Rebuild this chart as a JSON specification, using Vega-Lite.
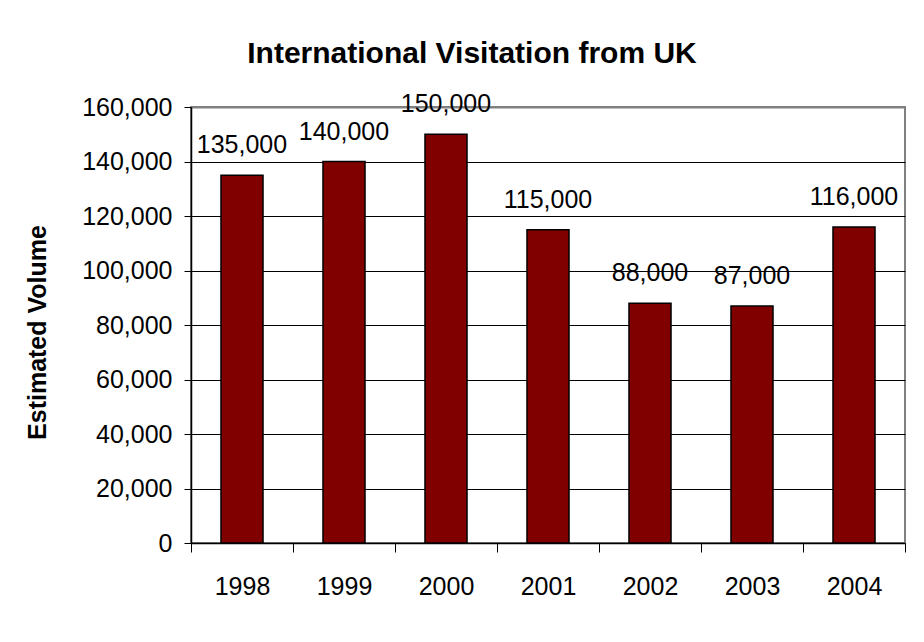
{
  "$schema": "https://vega.github.io/schema/vega-lite/v6.json",
  "autosize": {"type": "none"},
  "width": 714,
  "height": 436,
  "padding": {"left": 191, "top": 107, "right": 19, "bottom": 99},
  "background": "white",
  "title": {
    "text": "International Visitation from UK",
    "font": "Liberation Sans",
    "fontSize": 30,
    "fontWeight": "bold",
    "color": "black",
    "anchor": "middle",
    "frame": "group",
    "baseline": "alphabetic",
    "offset": -1,
    "dx": -76
  },
  "data": {
    "values": [
      {"year": "1998", "volume": 135000},
      {"year": "1999", "volume": 140000},
      {"year": "2000", "volume": 150000},
      {"year": "2001", "volume": 115000},
      {"year": "2002", "volume": 88000},
      {"year": "2003", "volume": 87000},
      {"year": "2004", "volume": 116000}
    ]
  },
  "encoding": {
    "x": {
      "field": "year",
      "type": "ordinal",
      "scale": {"paddingInner": 0, "paddingOuter": 0},
      "axis": {
        "title": null,
        "labelAngle": 0,
        "labelFont": "Liberation Sans",
        "labelFontSize": 25,
        "labelColor": "black",
        "labelPadding": 22,
        "tickBand": "extent",
        "tickSize": 9,
        "tickColor": "black",
        "tickWidth": 1,
        "domainColor": "black",
        "domainWidth": 1.5,
        "grid": false
      }
    },
    "y": {
      "field": "volume",
      "type": "quantitative",
      "scale": {"domain": [0, 160000], "nice": false},
      "axis": {
        "title": "Estimated Volume",
        "titleFont": "Liberation Sans",
        "titleFontSize": 25,
        "titleFontWeight": "bold",
        "titleColor": "black",
        "titleAngle": -90,
        "titleAlign": "center",
        "titleBaseline": "alphabetic",
        "titleX": -146,
        "titleY": 225,
        "values": [0, 20000, 40000, 60000, 80000, 100000, 120000, 140000, 160000],
        "format": ",.0f",
        "labelFont": "Liberation Sans",
        "labelFontSize": 25,
        "labelColor": "black",
        "labelPadding": 12,
        "tickSize": 7,
        "tickColor": "black",
        "tickWidth": 1,
        "domainColor": "black",
        "domainWidth": 1.5,
        "grid": true,
        "gridColor": {"condition": {"test": "datum.value === 160000", "value": "#808080"}, "value": "black"},
        "gridWidth": {"condition": {"test": "datum.value === 160000", "value": 2}, "value": 1},
        "gridOpacity": 1
      }
    }
  },
  "layer": [
    {
      "mark": {"type": "bar", "color": "#800000", "stroke": "black", "strokeWidth": 1.5, "width": {"band": 0.412}}
    },
    {
      "mark": {"type": "text", "font": "Liberation Sans", "fontSize": 25, "color": "black", "baseline": "alphabetic", "dy": -22},
      "encoding": {"text": {"field": "volume", "type": "quantitative", "format": ",.0f"}}
    }
  ],
  "config": {
    "view": {"stroke": "#808080", "strokeWidth": 2}
  }
}
